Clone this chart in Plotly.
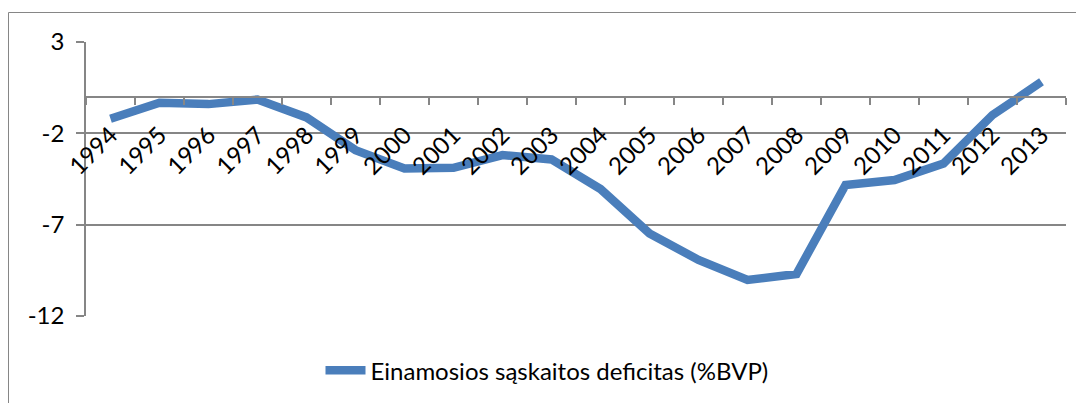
import plotly.graph_objects as go

years = [str(y) for y in range(1994, 2014)]
deficit = [-1.2, -0.33, -0.4, -0.15, -1.13, -2.92, -3.92, -3.89, -3.19, -3.43,
           -5.05, -7.48, -8.93, -10.03, -9.7, -4.83, -4.56, -3.65, -1.0, 0.82]
y_ticks = [3, -2, -7, -12]
series_name = "Einamosios sąskaitos deficitas (%BVP)"

# the page body adds an 8px margin, so the figure is 8px smaller and shifted
OFF = 8
W, H = 1084 - OFF, 403 - OFF
M_L, M_R, M_T, M_B = 86 - OFF, 18, 42 - OFF, 23
PLOT_BOTTOM = 316 - OFF
paper_h = H - M_T - M_B
paper_w = W - M_L - M_R
dom0 = (H - M_B - PLOT_BOTTOM) / paper_h
y_min, y_max = -12, 3
zero_pos = dom0 + (0 - y_min) / (y_max - y_min) * (1 - dom0)


def px_x(x):
    return (x - OFF - M_L) / paper_w


def px_y(y):
    return (H - M_B - (y - OFF)) / paper_h


GREY = "#868686"
FONT = "Lato"
FS = 24

fig = go.Figure(go.Scatter(
    x=years, y=deficit, mode="lines", name=series_name,
    line={"color": "#4A7EBB", "width": 8.5},
))

fig.update_layout(
    width=W, height=H,
    margin={"l": M_L, "r": M_R, "t": M_T, "b": M_B, "autoexpand": False},
    paper_bgcolor="white", plot_bgcolor="white",
    font={"family": FONT, "size": FS, "color": "black"},
    showlegend=True,
    legend={
        "orientation": "h", "x": px_x(547), "xanchor": "center",
        "y": px_y(370.7), "yanchor": "middle",
        "font": {"size": FS}, "itemwidth": 40,
    },
    xaxis={
        "type": "category", "anchor": "free", "position": zero_pos,
        "automargin": False,
        "showline": True, "linecolor": GREY, "linewidth": 1.5,
        "ticks": "outside", "ticklen": 7, "tickcolor": GREY, "tickwidth": 1.5,
        "tickson": "boundaries", "tickangle": -45, "showgrid": False,
        "range": [-0.5, len(years) - 0.5],
        "ticklabelstandoff": 14,
        "tickfont": {"size": FS},
    },
    yaxis={
        "domain": [dom0, 1], "range": [y_min, y_max], "automargin": False,
        "tickvals": y_ticks, "ticktext": [str(v) for v in y_ticks],
        "showgrid": True, "gridcolor": GREY, "gridwidth": 1.5,
        "zeroline": False, "showline": True, "linecolor": GREY, "linewidth": 1.5,
        "ticks": "outside", "ticklen": 8, "tickcolor": GREY, "tickwidth": 1.5,
        "ticklabelstandoff": 7, "tickfont": {"size": FS},
    },
    shapes=[
        {"type": "line", "xref": "paper", "yref": "paper",
         "x0": px_x(8.5), "x1": px_x(8.5),
         "y0": px_y(12.5), "y1": px_y(420),
         "line": {"color": GREY, "width": 1}},
        {"type": "line", "xref": "paper", "yref": "paper",
         "x0": px_x(8.5), "x1": px_x(1100),
         "y0": px_y(12.5), "y1": px_y(12.5),
         "line": {"color": GREY, "width": 1}},
    ],
)

fig.write_html("out.html")
